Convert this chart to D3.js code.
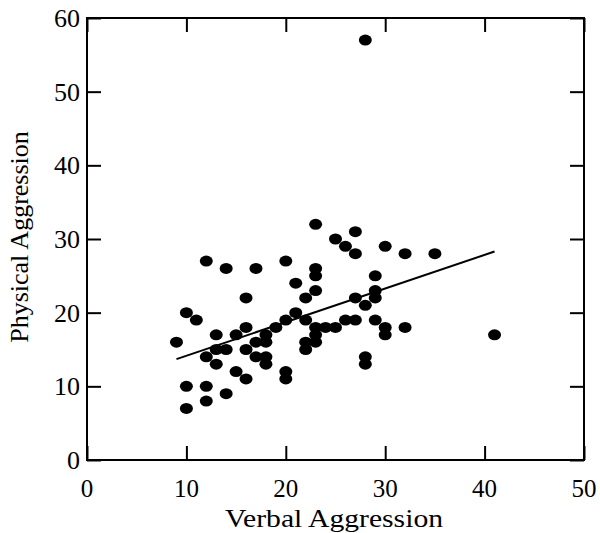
<!DOCTYPE html>
<html>
<head>
<meta charset="utf-8">
<script src="https://cdn.jsdelivr.net/npm/d3@7"></script>
<style>
  html, body { margin: 0; padding: 0; background: #fff; }
  svg { display: block; }
  text { font-family: "Liberation Serif", "Times New Roman", serif; fill: #000; }
</style>
</head>
<body>
<svg id="chart" width="600" height="533"></svg>
<script>
// Data
const verbal = [28,23,27,25,26,27,30,32,35,
  12,14,17,20,23,23,29,21,23,
  16,22,27,29,29,28,
  10,11,21,20,22,29,27,26,
  30,30,32,41,
  9,13,15,16,18,19,17,18,
  13,14,12,16,17,18,18,13,
  15,16,20,20,10,12,14,12,10,
  22,22,23,23,23,24,25,28,28];
const physical = [57,32,31,30,29,28,29,28,28,
  27,26,26,27,26,25,25,24,23,
  22,22,22,23,22,21,
  20,19,20,19,19,19,19,19,
  18,17,18,17,
  16,17,17,18,17,18,16,16,
  15,15,14,15,14,14,13,13,
  12,11,12,11,10,10,9,8,7,
  16,15,16,17,18,18,18,14,13];
const fitX = [9, 41];
const fitY = [13.7, 28.3];
const xTicks = [0,10,20,30,40,50];
const yTicks = [0,10,20,30,40,50,60];

const svg = d3.select("#chart");
const x = d3.scaleLinear().domain([0,50]).range([87,584]);
const y = d3.scaleLinear().domain([0,60]).range([460,18]);
const tick = 14;

// Frame
svg.append("rect")
  .attr("x", x(0)).attr("y", y(60))
  .attr("width", x(50)-x(0)).attr("height", y(0)-y(60))
  .attr("fill", "none").attr("stroke", "#000").attr("stroke-width", 2);

// Inward ticks on all four sides
const gb = svg.append("g").attr("transform", `translate(0,${y(0)})`)
  .call(d3.axisBottom(x).tickValues(xTicks).tickSize(-tick).tickFormat(""));
const gt = svg.append("g").attr("transform", `translate(0,${y(60)})`)
  .call(d3.axisTop(x).tickValues(xTicks).tickSize(-tick).tickFormat(""));
const gl = svg.append("g").attr("transform", `translate(${x(0)},0)`)
  .call(d3.axisLeft(y).tickValues(yTicks).tickSize(-tick).tickFormat(""));
const gr = svg.append("g").attr("transform", `translate(${x(50)},0)`)
  .call(d3.axisRight(y).tickValues(yTicks).tickSize(-tick).tickFormat(""));
[gb,gt,gl,gr].forEach(g => {
  g.select(".domain").remove();
  g.selectAll(".tick line").attr("stroke", "#000").attr("stroke-width", 2);
});

// Tick labels
svg.append("g").selectAll("text").data(xTicks).join("text")
  .attr("x", d => x(d)).attr("y", 497)
  .attr("text-anchor", "middle").attr("font-size", 25)
  .text(d => d);
svg.append("g").selectAll("text").data(yTicks).join("text")
  .attr("x", 80).attr("y", d => y(d))
  .attr("dy", "0.34em")
  .attr("text-anchor", "end").attr("font-size", 26)
  .text(d => d);

// Axis titles
svg.append("text")
  .attr("x", 334).attr("y", 527)
  .attr("text-anchor", "middle").attr("font-size", 26)
  .attr("textLength", 218).attr("lengthAdjust", "spacingAndGlyphs")
  .text("Verbal Aggression");
svg.append("text")
  .attr("transform", `translate(28,237) rotate(-90)`)
  .attr("text-anchor", "middle").attr("font-size", 26)
  .text("Physical Aggression");

// Regression line
svg.append("line")
  .attr("x1", x(fitX[0])).attr("y1", y(fitY[0]))
  .attr("x2", x(fitX[1])).attr("y2", y(fitY[1]))
  .attr("stroke", "#000").attr("stroke-width", 2);

// Points
svg.append("g").selectAll("ellipse").data(verbal.map((v,i) => [v, physical[i]])).join("ellipse")
  .attr("cx", d => x(d[0])).attr("cy", d => y(d[1]))
  .attr("rx", 6.5).attr("ry", 5.5)
  .attr("fill", "#000");
</script>
</body>
</html>
